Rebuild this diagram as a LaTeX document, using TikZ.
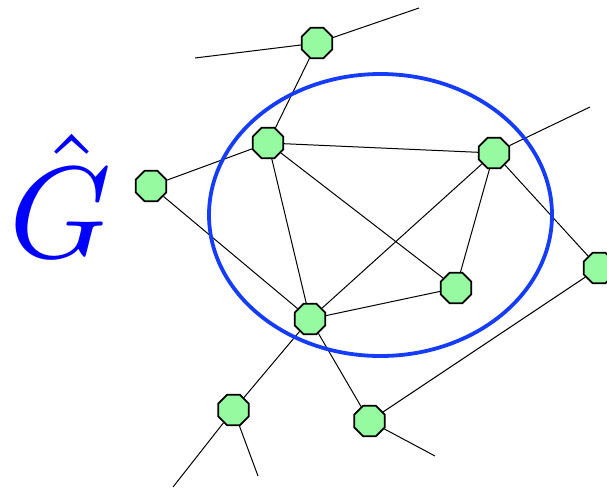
\documentclass[tikz,border=0pt]{standalone}
\usepackage{amsmath, amssymb}
\usepackage{graphicx}
\usetikzlibrary{shapes.geometric}

\definecolor{vertexgreen}{RGB}{150,250,160}
\definecolor{hatblue}{RGB}{0,0,255}
\definecolor{ringblue}{RGB}{20,60,250}

\tikzset{
  vertex/.style={regular polygon, regular polygon sides=8, draw=black, line width=1.8pt,
    fill=vertexgreen, minimum size=33pt, inner sep=0pt},
  edge/.style={black, line width=1pt}
}

\begin{document}
\begin{tikzpicture}[x=1pt, y=-1pt]
                \useasboundingbox (0,0) rectangle (607,488);
                \begin{scope}
                \clip (0,0) rectangle (607,488);
                % vertices
                \node[vertex] (a) at (317,43) {};
                \node[vertex] (b) at (268,143) {};
                \node[vertex] (c) at (151,186) {};
                \node[vertex] (d) at (494,153) {};
                \node[vertex] (e) at (456,288) {};
                \node[vertex] (f) at (310,319) {};
                \node[vertex] (g) at (599,268) {};
                \node[vertex] (h) at (233.5,410) {};
                \node[vertex] (i) at (369.5,421) {};
                % loose ends
                \coordinate (a1) at (195,58);
                \coordinate (a2) at (419,8);
                \coordinate (d1) at (590,107);
                \coordinate (h1) at (173,487);
                \coordinate (h2) at (258,476);
                \coordinate (i1) at (435,456);
                % edges
                \draw[edge] (a) -- (b) (a) -- (a1) (a) -- (a2)
                            (b) -- (c) (b) -- (d) (b) -- (e) (b) -- (f)
                            (c) -- (f) (d) -- (e) (d) -- (f) (d) -- (g) (d) -- (d1)
                            (e) -- (f) (f) -- (h) (f) -- (i) (g) -- (i)
                            (h) -- (h1) (h) -- (h2) (i) -- (i1);
                % the ring
                \draw[ringblue, line width=3.8pt] (380.5,215) ellipse [x radius=171.5, y radius=141];
                \end{scope}
                \node[hatblue, anchor=base, inner sep=0pt] (ghat) at (61,257)
                  {\scalebox{13}{$\hat{G}$}};
\end{tikzpicture}
\end{document}
